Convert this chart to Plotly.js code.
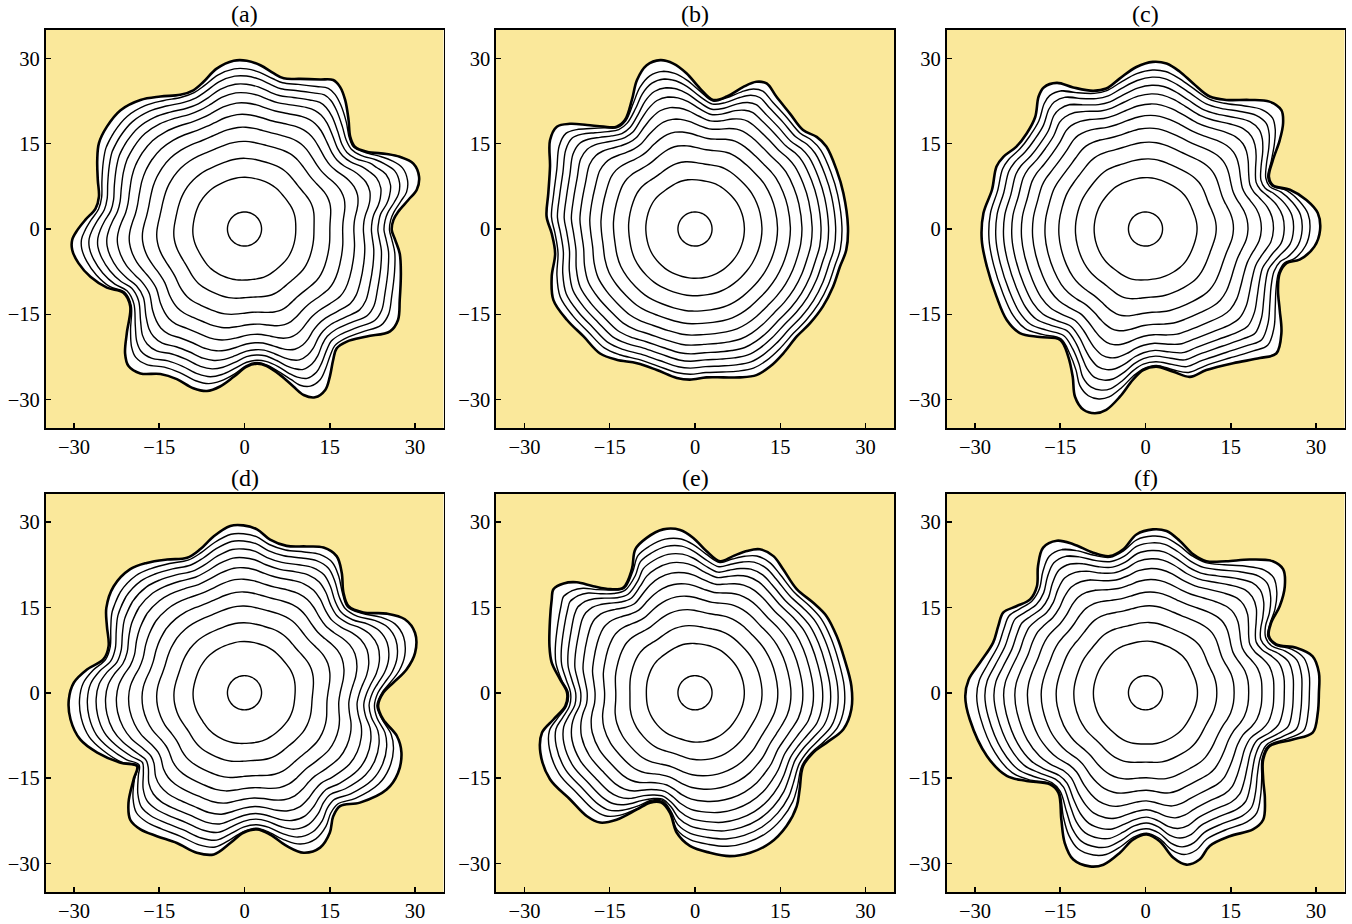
<!DOCTYPE html>
<html>
<head>
<meta charset="utf-8">
<script src="https://cdn.plot.ly/plotly-3.0.1.min.js"></script>
<style>html,body{margin:0;padding:0;background:#fff;}#chart{width:1352px;height:924px;}</style>
</head>
<body>
<div id="chart"></div>
<script>
// ---- data ----
const panelLabels = ['(a)', '(b)', '(c)', '(d)', '(e)', '(f)'];
const tickValues = [-30, -15, 0, 15, 30];
const axisRange = [-35, 35];

// outer (final) interface of each panel, traced clockwise
const aX = [-25.6,-24.2,-21.8,-18.3,-14.8,-11.3,-9.0,-7.2,-4.9,-1.9,0.4,2.8,5.1,6.9,9.8,13.3,15.6,16.8,17.7,18.3,18.6,19.4,21.5,25.0,27.3,29.7,30.7,30.3,28.8,27.0,26.2,25.9,26.5,27.3,27.5,27.3,27.0,25.6,21.5,18.0,16.2,15.6,15.0,14.2,12.4,10.4,8.6,6.3,3.9,2.2,0.4,-1.9,-4.3,-6.6,-9.0,-11.9,-14.8,-18.3,-20.4,-21.0,-20.7,-20.1,-21.3,-24.2,-27.1,-29.2,-30.3,-30.3,-29.4,-28.0,-26.2,-25.6,-25.8,-25.9];
const aY = [15.1,18.0,20.9,22.7,23.3,23.6,24.4,25.9,28.2,29.6,29.6,28.8,27.4,26.5,26.4,26.3,26.2,25.0,22.7,19.2,16.2,14.5,13.6,13.2,12.7,11.5,9.2,6.9,5.1,3.0,1.6,-0.2,-1.9,-4.3,-7.8,-12.5,-16.0,-18.0,-18.9,-19.8,-21.0,-23.0,-26.0,-28.3,-29.6,-29.2,-27.7,-25.7,-24.1,-23.7,-24.2,-26.0,-27.7,-28.5,-28.0,-26.4,-25.5,-25.4,-24.1,-21.9,-18.3,-13.6,-11.2,-10.3,-8.4,-6.0,-3.7,-1.9,-0.2,1.6,3.6,5.7,8.6,12.1];

const bX = [-6.1,-3.8,-1.5,0.9,3.2,5.6,8.5,10.8,12.6,14.3,16.7,19.0,21.4,23.1,24.9,26.1,26.9,26.6,25.5,24.3,22.5,20.2,17.9,15.5,13.2,10.8,7.9,5.0,2.0,-0.9,-3.2,-6.7,-10.2,-13.8,-16.7,-19.6,-22.5,-24.9,-25.2,-24.6,-25.2,-26.1,-25.8,-25.5,-25.5,-24.3,-22.0,-19.0,-16.1,-13.8,-12.3,-11.1,-10.2,-8.5];
const bY = [29.7,29.1,27.4,24.7,22.7,23.3,25.0,25.9,25.6,23.3,20.3,17.4,16.2,14.5,10.4,6.3,0.4,-3.7,-6.6,-10.1,-13.6,-16.6,-18.9,-21.9,-24.2,-25.7,-26.1,-26.1,-26.1,-26.5,-26.2,-24.8,-23.6,-23.0,-21.9,-18.9,-16.0,-12.5,-8.4,-4.3,-0.8,2.2,6.3,11.0,15.6,18.0,18.5,18.3,18.0,18.0,19.2,22.7,26.2,28.8];

const cX = [-15.6,-12.7,-9.2,-6.9,-4.5,-1.6,1.3,3.7,6.0,8.4,11.3,14.2,18.3,21.8,23.9,24.2,23.6,22.4,21.7,22.4,25.4,28.3,30.3,30.7,29.7,27.1,24.8,23.6,23.3,23.6,23.9,23.0,20.1,15.4,10.7,7.8,4.9,1.9,-0.4,-2.2,-4.5,-6.9,-8.9,-10.9,-12.4,-12.8,-13.6,-15.0,-18.6,-22.1,-24.4,-26.2,-27.9,-28.8,-28.5,-27.0,-26.2,-25.0,-22.7,-20.9,-19.4,-18.8,-17.9];
const cY = [25.7,24.9,24.3,24.7,26.5,28.5,29.4,29.1,27.7,25.6,23.3,22.7,22.7,22.4,20.9,18.6,15.6,12.1,9.2,7.7,6.9,5.1,2.8,-0.2,-3.1,-5.4,-6.0,-7.8,-10.7,-14.2,-18.3,-21.9,-22.7,-23.6,-24.8,-26.0,-25.1,-24.2,-24.8,-26.5,-29.5,-31.8,-32.4,-31.8,-29.5,-26.0,-22.4,-19.5,-19.0,-18.3,-16.0,-11.9,-6.6,-1.9,2.8,6.9,11.0,12.7,14.5,16.8,19.7,23.3,24.9];

const dX = [-24.3,-23.0,-20.1,-17.2,-13.6,-10.1,-7.8,-5.4,-2.5,-0.2,2.2,4.5,7.4,10.9,13.9,16.2,17.1,17.4,18.3,20.9,25.0,28.2,30.0,30.0,28.5,26.2,24.4,23.5,24.4,26.8,27.6,27.0,25.0,20.3,16.8,15.6,15.0,13.3,10.4,7.4,4.5,2.2,-0.2,-2.5,-5.4,-8.4,-11.9,-15.4,-18.3,-20.1,-20.4,-19.5,-18.9,-21.8,-25.9,-28.9,-30.6,-30.9,-30.0,-27.7,-24.8,-23.9,-24.2];
const dY = [14.9,18.7,21.7,22.8,23.4,23.7,25.2,27.5,29.3,29.4,28.7,26.9,25.8,25.7,25.5,24.0,21.1,17.6,15.2,14.1,13.9,12.9,10.5,7.0,4.1,1.8,0.0,-2.3,-4.7,-7.6,-10.5,-14.1,-17.0,-19.3,-19.9,-21.7,-24.6,-27.2,-28.1,-26.9,-24.9,-24.0,-24.6,-26.4,-28.4,-28.1,-26.4,-25.2,-24.0,-22.3,-19.3,-15.2,-12.9,-12.3,-10.5,-8.2,-4.7,-1.2,1.8,4.1,5.9,8.2,11.7];

const eX = [-24.9,-23.1,-20.8,-17.9,-14.9,-12.6,-11.1,-10.5,-8.5,-5.6,-2.6,-0.3,2.0,4.4,6.7,9.1,11.4,13.8,15.5,17.9,20.8,23.1,24.9,26.3,27.5,27.5,26.1,23.1,20.8,19.0,18.4,17.9,16.1,13.2,9.7,6.1,2.6,-0.9,-3.2,-4.4,-5.9,-7.9,-10.2,-13.8,-16.7,-19.0,-22.0,-25.5,-27.2,-26.9,-24.9,-22.8,-22.5,-23.7,-25.2,-25.6,-25.5,-25.2];
const eY = [18.2,19.2,19.4,18.7,18.2,18.5,21.7,25.2,27.2,28.7,28.6,27.2,24.9,23.1,24.0,24.9,25.2,24.0,21.7,18.2,15.8,13.5,10.0,5.9,1.2,-2.9,-6.4,-8.8,-10.5,-12.9,-17.0,-19.9,-23.4,-26.4,-28.1,-28.7,-28.1,-26.9,-24.6,-21.1,-19.3,-19.3,-20.5,-22.3,-22.8,-21.7,-18.7,-15.2,-10.5,-7.0,-4.7,-2.3,0.0,2.3,5.3,8.2,12.9,16.4];

const fX = [-15.6,-12.7,-9.2,-6.3,-3.9,-1.6,1.3,3.7,6.0,8.4,10.7,14.2,18.3,22.4,24.2,24.5,23.6,22.1,21.7,23.0,26.5,29.4,30.5,30.5,30.3,29.4,25.9,21.8,20.7,20.7,21.0,20.7,18.9,14.8,11.3,9.5,7.2,4.9,2.5,0.2,-2.2,-4.5,-7.4,-9.8,-12.7,-14.2,-14.8,-15.3,-16.8,-20.9,-24.4,-27.9,-30.9,-31.7,-31.1,-29.1,-26.8,-25.9,-25.0,-22.7,-20.3,-19.1,-18.9,-18.0];
const fY = [26.7,26.1,24.6,24.0,25.2,27.8,28.7,28.4,26.7,24.3,23.1,23.1,23.4,23.1,21.7,18.7,15.2,12.3,10.0,8.5,7.9,6.4,3.5,0.0,-3.5,-7.0,-8.2,-9.4,-11.7,-15.2,-18.7,-22.3,-24.0,-25.2,-26.9,-29.3,-30.2,-29.0,-26.1,-24.9,-25.8,-28.1,-30.2,-30.5,-29.3,-26.4,-22.3,-17.6,-16.1,-15.5,-14.6,-11.1,-4.7,-0.6,2.3,5.3,8.8,11.7,14.1,15.2,16.4,18.7,22.3,25.5];

// intermediate interfaces: seed radius, relative mean-radius position,
// relative amplitude and angular smoothness of each level (last = traced interface)
const seedRadius = 3.0;
const levelPosition = [0, 0.24, 0.37, 0.485, 0.58, 0.665, 0.74, 0.805, 0.86, 0.912, 0.958, 1];
const levelAmplitude = [0, 0.03, 0.08, 0.14, 0.21, 0.29, 0.38, 0.47, 0.56, 0.64, 0.72, 1];
const levelSmoothing = [0, 0.10, 0.09, 0.08, 0.07, 0.06, 0.05, 0.04, 0.03, 0.02, 0.012, 0]; // radians

const outerX = [aX, bX, cX, dX, eX, fX];
const outerY = [aY, bY, cY, dY, eY, fY];

// ---- figure ----
const colDomains = [[45.5, 443.5], [496, 894], [946.5, 1344.5]];
const rowDomains = [[30, 428], [493.5, 892]];
const W = 1352, H = 924;
const fontFamily = 'Liberation Serif, Times New Roman, serif';

const traces = [];
const layout = {
  width: W, height: H,
  margin: {l: 0, r: 0, t: 0, b: 0},
  paper_bgcolor: '#ffffff',
  showlegend: false,
  font: {family: fontFamily, color: '#000', size: 20},
  annotations: [],
  shapes: []
};

function closeArr(a) { return a.concat([a[0], a[1]]); }
function angDiff(a, b) { let d = a - b; while (d > Math.PI) d -= 2 * Math.PI; while (d < -Math.PI) d += 2 * Math.PI; return d; }

for (let p = 0; p < 6; p++) {
  const xa = p === 0 ? 'x' : 'x' + (p + 1);
  const ya = p === 0 ? 'y' : 'y' + (p + 1);
  const X = outerX[p], Y = outerY[p];
  const n = X.length;
  const th = [], r = [], wt = [];
  for (let i = 0; i < n; i++) { th.push(Math.atan2(Y[i], X[i])); r.push(Math.hypot(X[i], Y[i])); }
  for (let i = 0; i < n; i++) wt.push(Math.abs(angDiff(th[(i - 1 + n) % n], th[(i + 1) % n])) / 2);
  let sw = 0, sr = 0;
  for (let i = 0; i < n; i++) { sw += wt[i]; sr += wt[i] * r[i]; }
  const Rout = sr / sw;
  const dev = r.map(v => v - Rout);
  const L = levelPosition.length;
  const radii = new Array(L);
  radii[L - 1] = r.slice();
  for (let k = L - 2; k >= 0; k--) {
    const Rk = seedRadius + levelPosition[k] * (Rout - seedRadius);
    const s = levelSmoothing[k];
    const rk = [];
    for (let i = 0; i < n; i++) {
      let d = dev[i];
      if (s > 0) {
        let num = 0, den = 0;
        for (let j = 0; j < n; j++) {
          const a = angDiff(th[j], th[i]);
          const w = wt[j] * Math.exp(-0.5 * (a / s) * (a / s));
          num += w * dev[j]; den += w;
        }
        d = num / den;
      }
      let v = Rk + levelAmplitude[k] * d;
      if (k > 0) v = Math.min(v, radii[k + 1][i] - 0.22);
      rk.push(v);
    }
    radii[k] = rk;
  }
  for (let k = L - 1; k >= 0; k--) {
    const xs = [], ys = [];
    for (let i = 0; i < n; i++) { xs.push(radii[k][i] * Math.cos(th[i])); ys.push(radii[k][i] * Math.sin(th[i])); }
    const outer = k === L - 1;
    traces.push({
      type: 'scatter', mode: 'lines', xaxis: xa, yaxis: ya,
      x: outer ? xs.concat([xs[0]]) : closeArr(xs),
      y: outer ? ys.concat([ys[0]]) : closeArr(ys),
      line: {color: '#000', width: outer ? 2.6 : 1.4, shape: 'spline', smoothing: 1},
      fill: outer ? 'toself' : 'none', fillcolor: '#ffffff',
      hoverinfo: 'skip'
    });
  }
  const col = p % 3, row = Math.floor(p / 3);
  const cd = colDomains[col], rd = rowDomains[row];
  const axCommon = {
    range: axisRange, tickvals: tickValues, ticks: 'inside', ticklen: 5, tickwidth: 1.5,
    tickcolor: '#000', showline: true, linecolor: '#000', linewidth: 1.6, mirror: true,
    showgrid: false, zeroline: false, tickfont: {family: fontFamily, size: 20.5, color: '#000'},
    fixedrange: true
  };
  const xKey = p === 0 ? 'xaxis' : 'xaxis' + (p + 1);
  const yKey = p === 0 ? 'yaxis' : 'yaxis' + (p + 1);
  layout[xKey] = Object.assign({}, axCommon, {domain: [cd[0] / W, cd[1] / W], anchor: ya});
  layout[yKey] = Object.assign({}, axCommon, {domain: [1 - rd[1] / H, 1 - rd[0] / H], anchor: xa});
  layout.shapes.push({type: 'rect', xref: xa + ' domain', yref: ya + ' domain', x0: 0, x1: 1, y0: 0, y1: 1,
    fillcolor: '#FAE89B', line: {width: 0}, layer: 'below'});
  layout.annotations.push({
    text: panelLabels[p], xref: 'paper', yref: 'paper',
    x: (cd[0] + cd[1]) / 2 / W, y: 1 - (rd[0] - 16) / H,
    xanchor: 'center', yanchor: 'middle', showarrow: false,
    font: {family: fontFamily, size: 24, color: '#000'}
  });
}

Plotly.newPlot('chart', traces, layout, {displayModeBar: false, staticPlot: true});
</script>
</body>
</html>
